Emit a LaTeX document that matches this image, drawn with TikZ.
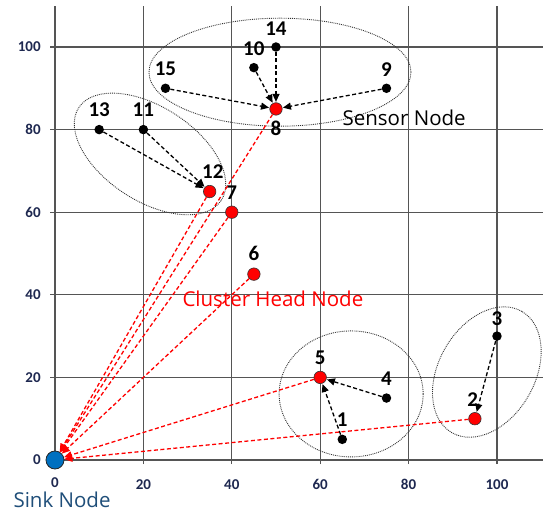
\documentclass[tikz,border=0pt]{standalone}
\usepackage{fontspec}
\setmainfont{Open Sans}
\newfontfamily\numfont{Carlito}
\usetikzlibrary{arrows.meta}
\definecolor{gridc}{RGB}{85,85,85}
\definecolor{tickc}{RGB}{30,40,80}
\definecolor{sinkc}{RGB}{0,112,192}
\definecolor{sinktxt}{RGB}{31,78,121}
\tikzset{
  x=4.42pt, y=4.13pt,
  gridline/.style={gridc, line width=1.3pt},
  tick/.style={font=\numfont\bfseries\fontsize{15}{15}\selectfont, text=tickc, inner sep=0pt},
  sensor/.style={circle, fill=black, inner sep=0pt, minimum size=9.5pt},
  headnode/.style={circle, fill=red, draw=black!80, line width=0.6pt, inner sep=0pt, minimum size=12.5pt},
  sinknode/.style={circle, fill=sinkc, draw=black!85, line width=0.8pt, inner sep=0pt, minimum size=18pt},
  lab/.style={font=\numfont\bfseries\fontsize{21}{21}\selectfont, inner sep=0pt},
  member/.style={black, dash pattern=on 4pt off 2.5pt, line width=1.3pt, -{Triangle[length=8pt,width=7pt]}, shorten >=0.5pt},
  tosink/.style={red, dash pattern=on 4pt off 2.5pt, line width=1.3pt, -{Triangle[length=8pt,width=7pt]}},
  cluster/.style={draw=black!80, densely dotted, line width=0.9pt},
  bigtext/.style={font=\fontsize{20.5}{20.5}\selectfont, inner sep=0pt}
}
\begin{document}
\begin{tikzpicture}
\useasboundingbox (-12.44,-12.35) rectangle (110.41,111.38);
% grid
\foreach \v in {0,20,...,100} {
  \draw[gridline] (\v,-1) -- (\v,110);
  \draw[gridline] (-1.1,\v) -- (110.41,\v);
}
% ticks
\foreach \v in {0,20,...,100} {
  \node[tick, anchor=east] (yt\v) at (-3.2,\v) {\v};
}
\foreach \v in {20,40,...,100} {
  \node[tick] (xt\v) at (\v,-6) {\v};
}
\node[tick] (xt0) at (0,-5.4) {0};
% clusters
\draw[cluster] (50.9,93.9) ellipse [x radius=131pt, y radius=54pt];
\draw[cluster, rotate around={-33:(21.5,74.1)}] (21.5,74.1) ellipse [x radius=85pt, y radius=47pt];
\draw[cluster] (67,16) ellipse [x radius=72pt, y radius=63pt];
\draw[cluster, rotate around={60:(97.7,21.3)}] (97.7,21.3) ellipse [x radius=70pt, y radius=48pt];
% nodes
\node[sinknode] (s) at (0,0) {};
\node[sensor] (n1) at (65,5) {};
\node[headnode] (n2) at (95,10) {};
\node[sensor] (n3) at (100,30) {};
\node[sensor] (n4) at (75,15) {};
\node[headnode] (n5) at (60,20) {};
\node[headnode] (n6) at (45,45) {};
\node[headnode] (n7) at (40,60) {};
\node[headnode] (n8) at (50,85) {};
\node[sensor] (n9) at (75,90) {};
\node[sensor] (n10) at (45,95) {};
\node[sensor] (n11) at (20,80) {};
\node[headnode] (n12) at (35,65) {};
\node[sensor] (n13) at (10,80) {};
\node[sensor] (n14) at (50,100) {};
\node[sensor] (n15) at (25,90) {};
% labels
\node[lab] (l1) at (65,9.8) {1};
\node[lab] (l2) at (94.5,14.6) {2};
\node[lab] (l3) at (100,34.2) {3};
\node[lab] (l4) at (75,19.8) {4};
\node[lab] (l5) at (60,24.8) {5};
\node[lab] (l6) at (45,50) {6};
\node[lab] (l7) at (40,64.8) {7};
\node[lab] (l8) at (50,80.2) {8};
\node[lab] (l9) at (75,94.5) {9};
\node[lab] (l10) at (45,99.5) {10};
\node[lab] (l11) at (20,84.8) {11};
\node[lab] (l12) at (35.7,69.8) {12};
\node[lab] (l13) at (10,84.8) {13};
\node[lab] (l14) at (50,104.5) {14};
\node[lab] (l15) at (25,94.8) {15};
% member arrows
\draw[member] (n13) -- (n12);
\draw[member] (n11) -- (n12);
\draw[member] (n15) -- (n8);
\draw[member] (n10) -- (n8);
\draw[member] (n14) -- (n8);
\draw[member] (n9) -- (n8);
\draw[member] (n4) -- (n5);
\draw[member] (n1) -- (n5);
\draw[member] (n3) -- (n2);
% to sink
\foreach \h in {n8,n12,n7,n6,n5,n2} {
  \draw[tosink] (\h) -- (s);
}
% texts
\node[bigtext] (tsensor) at (79,82.8) {Sensor Node};
\node[bigtext, text=red] (thead) at (49.3,39) {Cluster Head Node};
\node[bigtext, text=sinktxt] (tsink) at (1.6,-9.6) {Sink Node};
\end{tikzpicture}
\end{document}
